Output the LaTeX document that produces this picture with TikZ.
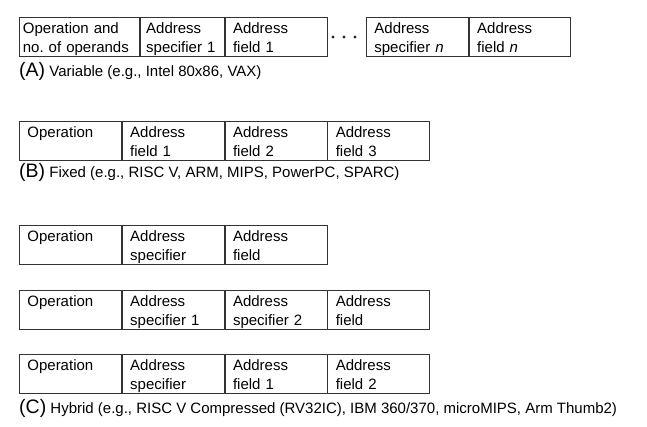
\documentclass[tikz,border=0pt]{standalone}
\usepackage{fontspec}
\setmainfont{Liberation Sans}
\usetikzlibrary{positioning}

\newcommand{\topstrut}{\rule{0pt}{16.5pt}}
\newcommand{\botstrut}{\rule[-3.6pt]{0pt}{3.6pt}}

\begin{document}
\begin{tikzpicture}[
  x=1pt, y=-1pt,
  font=\fontsize{15}{18.5}\selectfont,
  field/.style={draw=black!80, line width=0.8pt, align=left, anchor=north west,
    inner xsep=8pt, inner ysep=0pt, minimum height=38.6pt, text width=#1,
    execute at begin node=\topstrut, execute at end node=\botstrut},
  field/.default=86pt,
  caption/.style={anchor=base west, inner sep=0pt},
  tag/.style={font=\fontsize{19.5}{22}\selectfont}
]
\useasboundingbox (0,0) rectangle (647,427);

% (A) variable length: operation + n pairs of specifier/field
\node[field=113pt, inner xsep=3.5pt] (a1) at (19,17) {Operation and\\no.\ of operands};
\node[field=72pt, inner xsep=6pt, right=0pt of a1] (a2) {Address\\specifier 1};
\node[field, right=0pt of a2] (a3) {Address\\field 1};
\node[field, anchor=north west] (a4) at (366,17) {Address\\specifier \textit{n}};
\node[field=85pt, right=0pt of a4] (a5) {Address\\field \textit{n}};
\foreach \x in {333,344,355} \fill[black!85] (\x,37) circle (1.6pt);
\node[caption] (capA) at (19,77) {\tikz[baseline]\node[tag, inner sep=0pt, anchor=base] {(A)};\ Variable (e.g., Intel 80x86, VAX)};

% (B) fixed length
\node[field] (b1) at (19,121) {Operation\\};
\node[field, right=0pt of b1] (b2) {Address\\field 1};
\node[field, right=0pt of b2] (b3) {Address\\field 2};
\node[field, right=0pt of b3] (b4) {Address\\field 3};
\node[caption] (capB) at (19,178) {\tikz[baseline]\node[tag, inner sep=0pt, anchor=base] {(B)};\ Fixed (e.g., RISC V, ARM, MIPS, PowerPC, SPARC)};

% (C) hybrid: three sample formats
\node[field] (c1) at (19,225) {Operation\\};
\node[field, right=0pt of c1] (c2) {Address\\specifier};
\node[field, right=0pt of c2] (c3) {Address\\field};

\node[field] (d1) at (19,290) {Operation\\};
\node[field, right=0pt of d1] (d2) {Address\\specifier 1};
\node[field, right=0pt of d2] (d3) {Address\\specifier 2};
\node[field, right=0pt of d3] (d4) {Address\\field};

\node[field] (e1) at (19,354) {Operation\\};
\node[field, right=0pt of e1] (e2) {Address\\specifier};
\node[field, right=0pt of e2] (e3) {Address\\field 1};
\node[field, right=0pt of e3] (e4) {Address\\field 2};
\node[caption] (capC) at (19,413) {\tikz[baseline]\node[tag, inner sep=0pt, anchor=base] {(C)};\ Hybrid (e.g., RISC V Compressed (RV32IC), IBM 360/370, microMIPS, Arm Thumb2)};

\end{tikzpicture}
\end{document}
